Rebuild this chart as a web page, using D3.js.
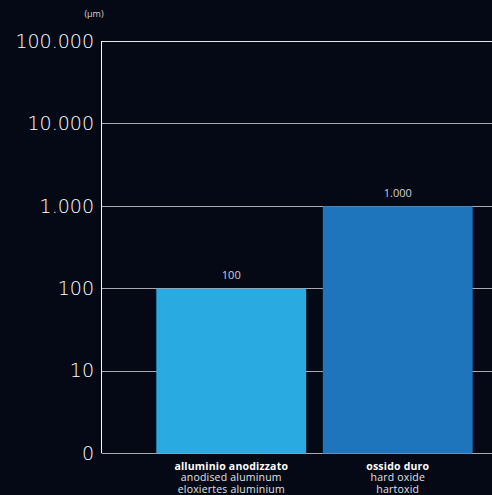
<!DOCTYPE html>
<html>
<head>
<meta charset="utf-8">
<script src="https://cdn.jsdelivr.net/npm/d3@7"></script>
<style>
  body { margin: 0; background: #040915; }
  svg { display: block; }
</style>
</head>
<body>
<div id="chart"></div>
<script>
const categories = ["alluminio anodizzato", "ossido duro"];
const subLabels = [["anodised aluminum", "eloxiertes aluminium"], ["hard oxide", "hartoxid"]];
const values = [100, 1000];
const tickValues = [1, 10, 100, 1000, 10000, 100000];
const tickLabels = ["0", "10", "100", "1.000", "10.000", "100.000"];
const unit = "(µm)";

const width = 492, height = 495;

const svg = d3.select("#chart")
  .append("svg")
  .attr("width", width)
  .attr("height", height)
  .style("font-family", "'Open Sans', sans-serif");

svg.append("rect")
  .attr("width", width)
  .attr("height", height)
  .attr("fill", "#040915");

const y = d3.scaleLog()
  .domain([1, 100000])
  .range([453, 41]);

const x = d3.scaleBand()
  .domain(categories)
  .range([148, 481])
  .paddingInner(0.1)
  .paddingOuter(0.05);

const fmt = (v) => d3.format(",")(v).replace(/,/g, ".");

// gridlines
svg.append("g")
  .selectAll("line")
  .data(tickValues)
  .join("line")
  .attr("x1", 101.5)
  .attr("x2", width)
  .attr("y1", d => Math.round(y(d)) + 0.5)
  .attr("y2", d => Math.round(y(d)) + 0.5)
  .attr("stroke", (d, i) => i == tickValues.length - 1 ? "#e6e6e6" : "#a9abb0")
  .attr("stroke-width", 1);

// axis line
svg.append("line")
  .attr("x1", 101.5)
  .attr("x2", 101.5)
  .attr("y1", y(100000))
  .attr("y2", y(1))
  .attr("stroke", "#ffffff");

// tick labels
svg.append("g")
  .selectAll("text")
  .data(tickValues)
  .join("text")
  .attr("x", 94)
  .attr("y", d => y(d))
  .attr("dy", "0.36em")
  .attr("text-anchor", "end")
  .attr("fill", "#ffffff")
  .attr("font-family", "'DejaVu Sans', sans-serif")
  .attr("font-size", 19)
  .attr("font-weight", 200)
  .text((d, i) => tickLabels[i]);

svg.append("text")
  .attr("x", 94)
  .attr("y", 17)
  .attr("text-anchor", "middle")
  .attr("fill", "#d0d2d6")
  .attr("font-size", 9)
  .text(unit);

// bars
const colors = ["#29abe2", "#1f75bb"];
svg.append("g")
  .selectAll("rect")
  .data(values)
  .join("rect")
  .attr("x", (d, i) => x(categories[i]))
  .attr("y", d => y(d) + 0.5)
  .attr("width", x.bandwidth())
  .attr("height", d => y(1) - y(d))
  .attr("fill", (d, i) => colors[i]);

// value labels
svg.append("g")
  .selectAll("text")
  .data(values)
  .join("text")
  .attr("x", (d, i) => x(categories[i]) + x.bandwidth() / 2)
  .attr("y", d => y(d) - 9)
  .attr("text-anchor", "middle")
  .attr("fill", "#d0d2d6")
  .attr("font-size", 11)
  .text(d => fmt(d));

// category labels
const cat = svg.append("g")
  .selectAll("text")
  .data(categories)
  .join("text")
  .attr("text-anchor", "middle")
  .attr("fill", "#ffffff")
  .attr("font-size", 10.5)
  .attr("letter-spacing", 0.2);

cat.append("tspan")
  .attr("x", d => x(d) + x.bandwidth() / 2)
  .attr("y", 469.5)
  .attr("font-weight", "bold")
  .text(d => d);

cat.each(function (d, i) {
  subLabels[i].forEach((s, j) => {
    d3.select(this).append("tspan")
      .attr("x", x(d) + x.bandwidth() / 2)
      .attr("y", 481 + j * 11.5)
      .attr("fill", "#e0e2e6")
      .text(s);
  });
});
</script>
</body>
</html>
